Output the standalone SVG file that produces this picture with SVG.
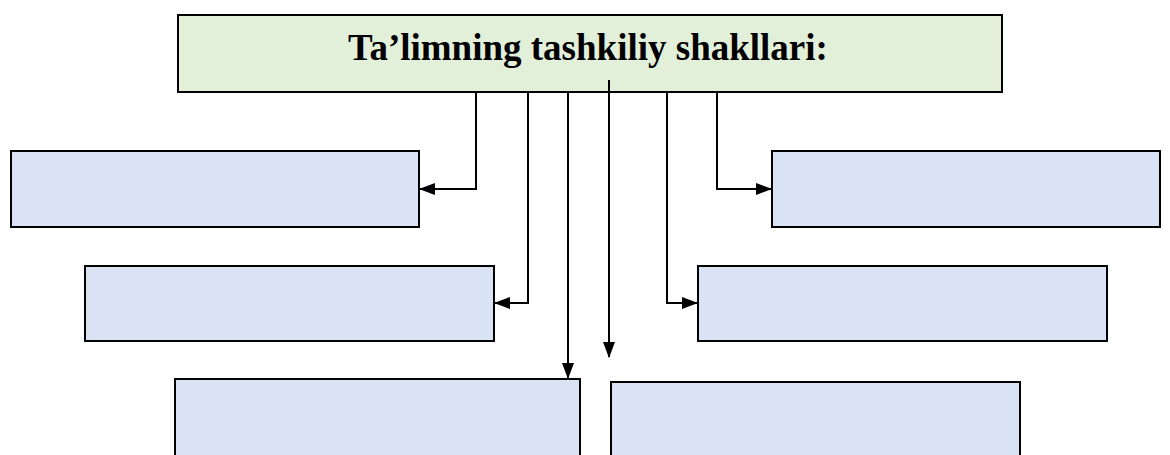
<svg xmlns="http://www.w3.org/2000/svg" width="1170" height="455" viewBox="0 0 1170 455">
<style>
.title{fill:#e2efd9;stroke:#000;stroke-width:2}
.box{fill:#dae3f3;stroke:#000;stroke-width:2}
.conn{fill:none;stroke:#000;stroke-width:2}
.t{font-family:"Liberation Serif","Times New Roman",serif;font-weight:bold;font-size:37px;fill:#000}
</style>
<defs>
<marker id="ah" markerWidth="16" markerHeight="12" refX="15" refY="6" orient="auto" markerUnits="userSpaceOnUse">
<path d="M0,0 L16,6 L0,12 Z" fill="#000"/>
</marker>
</defs>
<rect width="1170" height="455" fill="#fff"/>
<g id="title">
<rect class="title" x="178" y="15" width="824" height="77"/>
<text class="t" x="588" y="60" text-anchor="middle">Ta’limning tashkiliy shakllari:</text>
</g>
<g id="box-l1"><rect class="box" x="11" y="151" width="408" height="76"/></g>
<g id="box-r1"><rect class="box" x="772" y="151" width="388" height="76"/></g>
<g id="box-l2"><rect class="box" x="85" y="266" width="409" height="75"/></g>
<g id="box-r2"><rect class="box" x="698" y="266" width="409" height="75"/></g>
<g id="box-l3"><rect class="box" x="175" y="379" width="405" height="80"/></g>
<g id="box-r3"><rect class="box" x="611" y="382" width="409" height="80"/></g>
<g id="connectors">
<path class="conn" d="M476,92 V189 H420" marker-end="url(#ah)"/>
<path class="conn" d="M528,92 V303 H495" marker-end="url(#ah)"/>
<path class="conn" d="M568,92 V378" marker-end="url(#ah)"/>
<path class="conn" d="M609,80 V357" marker-end="url(#ah)"/>
<path class="conn" d="M667,92 V303 H697" marker-end="url(#ah)"/>
<path class="conn" d="M717,92 V189 H771" marker-end="url(#ah)"/>
</g>
</svg>
